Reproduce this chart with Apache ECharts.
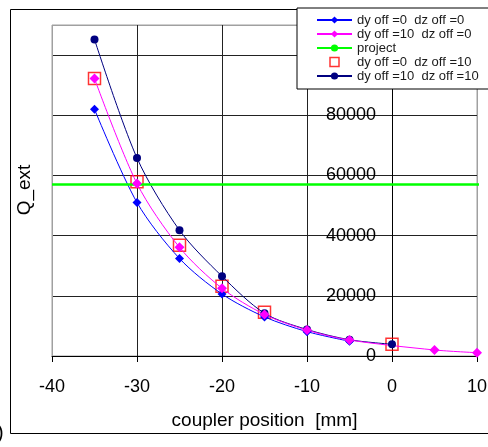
<!DOCTYPE html>
<html>
<head>
<meta charset="utf-8">
<script src="https://cdn.jsdelivr.net/npm/echarts@6/dist/echarts.min.js"></script>
<style>html,body{margin:0;padding:0;background:#fff;}#c{width:488px;height:447px;}</style>
</head>
<body>
<div id="c"></div>
<script>
// ---- data ----
const names = ['dy off =0  dz off =0', 'dy off =10  dz off =0', 'project', 'dy off =0  dz off =10', 'dy off =10  dz off =10'];
const xBlue = [-35, -30, -25, -20, -15, -10, -5];
const yBlue = [82000, 51000, 32400, 20600, 13000, 8100, 4900];
const xMagenta = [-35, -30, -25, -20, -15, -10, -5, 5, 10];
const yMagenta = [92200, 57300, 36100, 22500, 13800, 8600, 5300, 2000, 1100];
const xProject = [-40, 10.7];
const yProject = [57000, 57000];
const xRed = [-35, -30, -25, -20, -15, 0];
const yRed = [92200, 57900, 36800, 23200, 14500, 3900];
const xNavy = [-35, -30, -25, -20, -15, -10, -5, 0];
const yNavy = [105200, 65800, 41800, 26500, 14200, 8800, 5400, 3900];
const xTicks = [-40, -30, -20, -10, 0, 10];
const yTicks = [0, 20000, 40000, 60000, 80000];

const pairs = (xs, ys) => xs.map((x, i) => [x, ys[i]]);
const FONT = '"Liberation Sans", Arial, sans-serif';

const GRID = {left: 52, right: 11, top: 25, bottom: 91};
const plotW = 488 - GRID.left - GRID.right;
const xMin = xTicks[0], xMax = xTicks[xTicks.length - 1];
// y axis sits on x = 0
const yAxisOffset = -plotW * (0 - xMin) / (xMax - xMin);

const chart = echarts.init(document.getElementById('c'), null, {renderer: 'canvas'});
chart.setOption({
  animation: false,
  backgroundColor: '#fff',
  textStyle: {fontFamily: FONT},
  grid: Object.assign({show: true, borderColor: '#a0a0a0', borderWidth: 1, backgroundColor: 'transparent', outerBoundsMode: 'none', containLabel: false}, GRID),
  xAxis: {
    type: 'value', min: xMin, max: xMax, interval: 10,
    name: 'coupler position  [mm]', nameLocation: 'middle', nameGap: 55,
    nameTextStyle: {fontSize: 19, color: '#000', fontFamily: FONT},
    axisLine: {onZero: false, lineStyle: {color: '#000', width: 1}},
    axisTick: {show: true, inside: false, length: 6, lineStyle: {color: '#000'}},
    axisLabel: {fontSize: 18, color: '#000', margin: 22, fontFamily: FONT},
    splitLine: {show: true, lineStyle: {color: ['#a0a0a0', '#222', '#222', '#222', '#222', '#a0a0a0'], width: 1}}
  },
  yAxis: {
    type: 'value', min: 0, max: 110000, interval: 20000,
    position: 'left', offset: yAxisOffset,
    axisLine: {show: true, onZero: false, lineStyle: {color: '#000', width: 1}},
    axisTick: {show: false},
    axisLabel: {
      fontSize: 18, color: '#000', margin: 16, fontFamily: FONT,
      formatter: v => (yTicks.indexOf(v) >= 0 ? String(v) : '')
    },
    splitLine: {show: true, lineStyle: {color: ['#222', '#222', '#222', '#222', '#222', '#222', '#a0a0a0'], width: 1}}
  },
  legend: {
    data: [
      {name: names[0]},
      {name: names[1]},
      {name: names[2]},
      {name: names[3], icon: 'path://M0,0H10V10H0Z', itemStyle: {color: 'rgba(255,255,255,0)', borderColor: '#ff0000', borderWidth: 1.5}},
      {name: names[4]}
    ],
    orient: 'vertical', left: 297, top: 8,
    itemWidth: 35, itemHeight: 9, itemGap: 0,
    padding: [5, 30, 6, 19],
    backgroundColor: '#fff', borderColor: '#000', borderWidth: 1, borderRadius: 0,
    textStyle: {fontSize: 13, lineHeight: 14, color: '#1a1a1a', fontFamily: FONT},
    selectedMode: false
  },
  graphic: [
    {type: 'rect', silent: true, z: 0, shape: {x: 10.5, y: 9.5, width: 490, height: 424}, style: {fill: 'none', stroke: '#000', lineWidth: 1}},
    {type: 'text', silent: true, x: 25, y: 190, rotation: Math.PI / 2,
     style: {text: 'Q_ext', fontSize: 19, fill: '#000', fontFamily: FONT, align: 'center', verticalAlign: 'middle'}},
    {type: 'text', silent: true, x: -3, y: 423, style: {text: ')', fontSize: 20, fill: '#000', fontFamily: FONT}}
  ],
  series: [
    {
      name: names[4], type: 'line', data: pairs(xNavy, yNavy), smooth: 0.3,
      symbol: 'circle', symbolSize: 8, showAllSymbol: true,
      lineStyle: {color: '#000080', width: 1}, itemStyle: {color: '#000080'}
    },
    {
      name: names[0], type: 'line', data: pairs(xBlue, yBlue), smooth: 0.3,
      symbol: 'diamond', symbolSize: 9, showAllSymbol: true,
      lineStyle: {color: '#0000ff', width: 1}, itemStyle: {color: '#0000ff'}
    },
    {
      name: names[1], type: 'line', data: pairs(xMagenta, yMagenta), smooth: 0.3,
      symbol: 'diamond', symbolSize: 10, showAllSymbol: true,
      lineStyle: {color: '#ff00ff', width: 1}, itemStyle: {color: '#ff00ff'}
    },
    {
      name: names[2], type: 'line', data: pairs(xProject, yProject), symbol: 'none', clip: false,
      lineStyle: {color: '#00ff00', width: 2.5}, itemStyle: {color: '#00ff00'}
    },
    {
      name: names[3], type: 'scatter', data: pairs(xRed, yRed),
      symbol: 'rect', symbolSize: 12,
      itemStyle: {color: 'rgba(255,255,255,0)', borderColor: '#ff0000', borderWidth: 1.5}
    }
  ]
});
</script>
</body>
</html>
